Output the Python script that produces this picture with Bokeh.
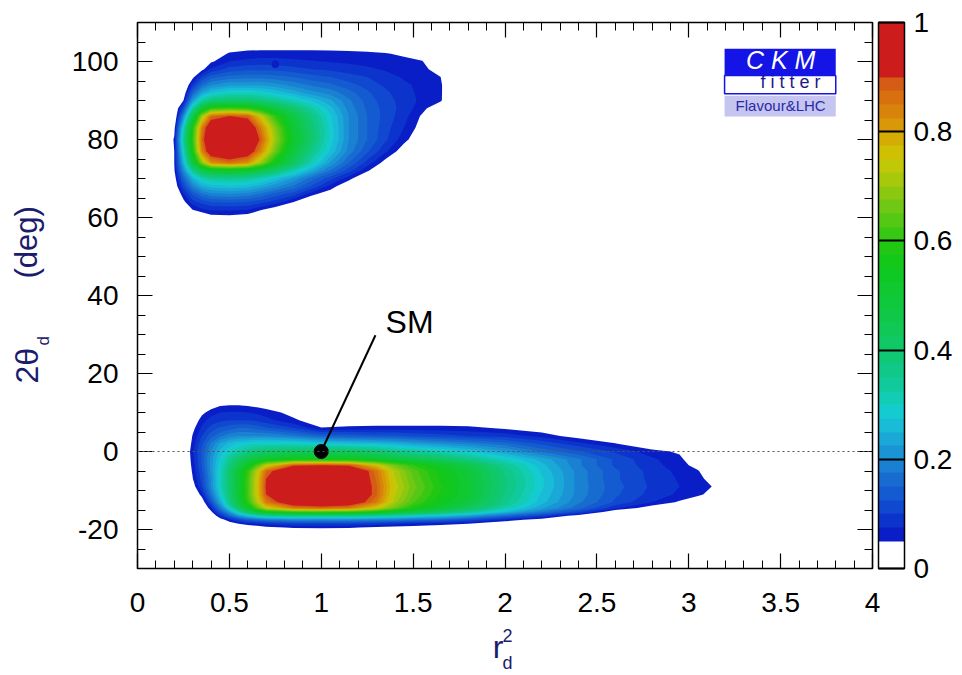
import numpy as np
from bokeh.plotting import figure
from bokeh.plotting.contour import contour_data
from bokeh.layouts import row, column
from bokeh.models import (ColumnDataSource, LinearAxis, SingleIntervalTicker, FixedTicker,
                          PrintfTickFormatter, ColorBar, LinearColorMapper,
                          BoxAnnotation, Span)
from bokeh.core.properties import value
from bokeh.embed import file_html
from bokeh.resources import INLINE

# ---------------- data: p-value maps ----------------
# lower solution (around 2theta_d ~ -9 deg)
LOWER_R2 = [0.25, 0.3, 0.35, 0.4, 0.45, 0.5, 0.55, 0.6, 0.65, 0.7, 0.85, 1.0, 1.15, 1.3,
            1.4, 1.5, 1.65, 1.8, 2.0, 2.2, 2.4, 2.6, 2.8, 2.95, 3.05, 3.15, 3.25]
LOWER_THETA = [-21, -19.5, -18.5, -17.5, -16.5, -15.5, -14.5, -13, -11, -9, -7, -5, -3.5,
               -2, 0, 2, 4, 6, 8, 10, 12, 14]
LOWER_P = [
    [0] * 27,
    [0, 0, 0, 0, 0, 0, 0.01, 0.02, 0.03, 0.04, 0.055, 0.058, 0.053, 0.045, 0.04, 0.035, 0.03, 0.02, 0, 0, 0, 0, 0, 0, 0, 0, 0],
    [0, 0, 0, 0, 0, 0.03, 0.05, 0.065, 0.075, 0.085, 0.1, 0.1, 0.1, 0.09, 0.08, 0.07, 0.06, 0.05, 0.02, 0, 0, 0, 0, 0, 0, 0, 0],
    [0, 0, 0, 0, 0.03, 0.07, 0.11, 0.14, 0.16, 0.18, 0.2, 0.2, 0.2, 0.19, 0.18, 0.17, 0.15, 0.12, 0.07, 0.03, 0, 0, 0, 0, 0, 0, 0],
    [0, 0, 0, 0.01, 0.08, 0.15, 0.22, 0.27, 0.31, 0.34, 0.36, 0.36, 0.36, 0.34, 0.32, 0.3, 0.27, 0.23, 0.16, 0.1, 0.03, 0, 0, 0, 0, 0, 0],
    [0, 0, 0, 0.04, 0.13, 0.22, 0.32, 0.41, 0.5, 0.56, 0.61, 0.62, 0.61, 0.57, 0.52, 0.47, 0.41, 0.35, 0.26, 0.18, 0.11, 0.02, 0, 0, 0, 0, 0],
    [0, 0, 0, 0.07, 0.18, 0.3, 0.42, 0.53, 0.64, 0.74, 0.85, 0.87, 0.85, 0.75, 0.66, 0.58, 0.5, 0.43, 0.32, 0.23, 0.16, 0.08, 0.03, 0, 0, 0, 0],
    [0, 0, 0.02, 0.12, 0.24, 0.36, 0.48, 0.6, 0.72, 0.85, 0.97, 0.98, 0.97, 0.85, 0.71, 0.63, 0.55, 0.48, 0.36, 0.26, 0.18, 0.12, 0.075, 0.045, 0.02, 0, 0],
    [0, 0, 0.065, 0.17, 0.28, 0.39, 0.5, 0.62, 0.75, 0.9, 1, 1, 1, 0.88, 0.73, 0.65, 0.57, 0.5, 0.37, 0.27, 0.19, 0.13, 0.09, 0.07, 0.058, 0.03, 0],
    [0, 0.03, 0.1, 0.2, 0.3, 0.4, 0.5, 0.62, 0.75, 0.91, 1, 1, 1, 0.88, 0.74, 0.66, 0.58, 0.5, 0.38, 0.28, 0.19, 0.135, 0.095, 0.075, 0.065, 0.045, 0],
    [0, 0.048, 0.11, 0.2, 0.3, 0.4, 0.5, 0.62, 0.75, 0.9, 1, 1, 1, 0.87, 0.73, 0.65, 0.57, 0.5, 0.38, 0.28, 0.19, 0.13, 0.092, 0.072, 0.06, 0.03, 0],
    [0, 0.055, 0.12, 0.21, 0.3, 0.4, 0.5, 0.6, 0.73, 0.87, 1, 1, 1, 0.86, 0.72, 0.64, 0.56, 0.49, 0.37, 0.27, 0.19, 0.13, 0.09, 0.068, 0.052, 0.02, 0],
    [0, 0.06, 0.13, 0.21, 0.29, 0.37, 0.45, 0.54, 0.63, 0.73, 0.89, 0.9, 0.89, 0.76, 0.66, 0.6, 0.53, 0.46, 0.35, 0.26, 0.18, 0.12, 0.085, 0.06, 0.04, 0, 0],
    [0, 0.065, 0.13, 0.21, 0.28, 0.35, 0.41, 0.46, 0.5, 0.53, 0.56, 0.56, 0.55, 0.52, 0.49, 0.46, 0.42, 0.37, 0.3, 0.24, 0.18, 0.12, 0.08, 0.058, 0.02, 0, 0],
    [0, 0.07, 0.13, 0.2, 0.26, 0.3, 0.33, 0.36, 0.38, 0.4, 0.42, 0.43, 0.42, 0.39, 0.36, 0.34, 0.31, 0.28, 0.23, 0.17, 0.13, 0.095, 0.06, 0.045, 0, 0, 0],
    [0, 0.06, 0.12, 0.18, 0.23, 0.26, 0.28, 0.29, 0.3, 0.3, 0.3, 0.28, 0.27, 0.26, 0.25, 0.23, 0.21, 0.19, 0.16, 0.12, 0.085, 0.052, 0.02, 0, 0, 0, 0],
    [0, 0.052, 0.1, 0.14, 0.17, 0.19, 0.2, 0.2, 0.2, 0.2, 0.18, 0.15, 0.14, 0.13, 0.13, 0.12, 0.11, 0.1, 0.09, 0.065, 0.035, 0.01, 0, 0, 0, 0, 0],
    [0, 0.04, 0.08, 0.11, 0.13, 0.14, 0.15, 0.15, 0.14, 0.13, 0.1, 0.052, 0.058, 0.06, 0.06, 0.06, 0.06, 0.058, 0.045, 0.03, 0.01, 0, 0, 0, 0, 0, 0],
    [0, 0.02, 0.065, 0.085, 0.095, 0.1, 0.1, 0.1, 0.095, 0.085, 0.055, 0.03, 0.025, 0.025, 0.025, 0.025, 0.025, 0.025, 0.02, 0.01, 0, 0, 0, 0, 0, 0, 0],
    [0, 0, 0.04, 0.065, 0.075, 0.078, 0.078, 0.075, 0.07, 0.062, 0.04, 0.02, 0.01, 0, 0, 0, 0, 0, 0, 0, 0, 0, 0, 0, 0, 0, 0],
    [0, 0, 0.01, 0.03, 0.045, 0.048, 0.048, 0.045, 0.04, 0.035, 0.02, 0.01, 0, 0, 0, 0, 0, 0, 0, 0, 0, 0, 0, 0, 0, 0, 0],
    [0] * 27,
]

# upper solution (around 2theta_d ~ 80 deg)
UPPER_R2 = [0.15, 0.2, 0.25, 0.3, 0.35, 0.4, 0.5, 0.6, 0.67, 0.75, 0.85, 0.95, 1.05, 1.15,
            1.25, 1.35, 1.45, 1.55, 1.65, 1.72]
UPPER_THETA = [57, 60, 62, 64, 66, 68, 70, 72, 74, 77, 80, 83, 86, 88, 90, 92, 94, 96, 98,
               100, 102, 104, 106]
UPPER_P = [
    [0] * 20,
    [0, 0, 0, 0, 0.01, 0.035, 0.038, 0.03, 0.015, 0, 0, 0, 0, 0, 0, 0, 0, 0, 0, 0],
    [0, 0, 0, 0.05, 0.07, 0.078, 0.08, 0.075, 0.053, 0.03, 0.01, 0, 0, 0, 0, 0, 0, 0, 0, 0],
    [0, 0, 0.04, 0.09, 0.11, 0.125, 0.13, 0.125, 0.11, 0.09, 0.05, 0.01, 0, 0, 0, 0, 0, 0, 0, 0],
    [0, 0, 0.07, 0.13, 0.17, 0.19, 0.2, 0.19, 0.17, 0.14, 0.11, 0.058, 0.03, 0, 0, 0, 0, 0, 0, 0],
    [0, 0.02, 0.11, 0.19, 0.24, 0.26, 0.27, 0.26, 0.24, 0.21, 0.17, 0.12, 0.065, 0.02, 0, 0, 0, 0, 0, 0],
    [0, 0.03, 0.15, 0.25, 0.31, 0.34, 0.35, 0.34, 0.31, 0.27, 0.22, 0.16, 0.11, 0.06, 0.01, 0, 0, 0, 0, 0],
    [0, 0.045, 0.2, 0.35, 0.45, 0.5, 0.52, 0.5, 0.46, 0.4, 0.32, 0.24, 0.17, 0.11, 0.055, 0, 0, 0, 0, 0],
    [0, 0.05, 0.25, 0.48, 0.68, 0.82, 0.86, 0.82, 0.7, 0.55, 0.42, 0.31, 0.22, 0.15, 0.09, 0.035, 0, 0, 0, 0],
    [0, 0.05, 0.3, 0.57, 0.84, 0.96, 1.0, 0.96, 0.84, 0.66, 0.48, 0.36, 0.27, 0.19, 0.13, 0.08, 0.03, 0, 0, 0],
    [0, 0.055, 0.34, 0.6, 0.87, 1.0, 1.0, 1.0, 0.89, 0.7, 0.52, 0.4, 0.29, 0.2, 0.15, 0.105, 0.06, 0.02, 0, 0],
    [0, 0.035, 0.3, 0.58, 0.84, 0.98, 1.0, 0.98, 0.85, 0.68, 0.5, 0.39, 0.29, 0.2, 0.15, 0.11, 0.075, 0.035, 0, 0],
    [0, 0, 0.2, 0.45, 0.7, 0.86, 0.9, 0.88, 0.75, 0.6, 0.47, 0.37, 0.28, 0.2, 0.15, 0.115, 0.085, 0.045, 0, 0],
    [0, 0, 0.12, 0.33, 0.5, 0.6, 0.62, 0.6, 0.55, 0.48, 0.4, 0.33, 0.26, 0.19, 0.145, 0.115, 0.09, 0.06, 0.02, 0],
    [0, 0, 0.05, 0.22, 0.33, 0.38, 0.4, 0.4, 0.38, 0.35, 0.31, 0.27, 0.23, 0.18, 0.14, 0.11, 0.09, 0.068, 0.055, 0],
    [0, 0, 0.02, 0.15, 0.23, 0.27, 0.3, 0.3, 0.29, 0.27, 0.24, 0.21, 0.19, 0.16, 0.13, 0.105, 0.085, 0.068, 0.056, 0],
    [0, 0, 0, 0.09, 0.16, 0.2, 0.22, 0.22, 0.22, 0.21, 0.19, 0.17, 0.155, 0.135, 0.115, 0.095, 0.08, 0.068, 0.056, 0],
    [0, 0, 0, 0.04, 0.1, 0.14, 0.16, 0.165, 0.165, 0.16, 0.15, 0.135, 0.125, 0.11, 0.1, 0.085, 0.072, 0.064, 0.05, 0],
    [0, 0, 0, 0, 0.04, 0.08, 0.11, 0.12, 0.12, 0.118, 0.11, 0.1, 0.095, 0.088, 0.08, 0.072, 0.065, 0.058, 0.035, 0],
    [0, 0, 0, 0, 0, 0.045, 0.075, 0.082, 0.085, 0.085, 0.08, 0.077, 0.073, 0.07, 0.066, 0.062, 0.058, 0.052, 0, 0],
    [0, 0, 0, 0, 0, 0.02, 0.055, 0.06, 0.062, 0.062, 0.062, 0.062, 0.06, 0.058, 0.056, 0.052, 0.045, 0.03, 0, 0],
    [0, 0, 0, 0, 0, 0, 0.02, 0.035, 0.035, 0.035, 0.035, 0.035, 0.035, 0.035, 0.032, 0.025, 0.015, 0, 0, 0],
    [0] * 20,
]

# small scan artefact (dark dot) at the top of the upper solution
ARTEFACT_R2 = [0.75]
ARTEFACT_THETA = [99.3]

# Standard Model point
SM_R2 = [1.0]
SM_THETA = [0.0]

# colour scale (p-value bands, lower edges) as on the colour bar
BAND_LEVELS = [0.05, 0.075, 0.1, 0.125, 0.15, 0.175, 0.2, 0.225, 0.25, 0.275, 0.3, 0.325,
               0.35, 0.375, 0.4, 0.425, 0.45, 0.475, 0.5, 0.525, 0.55, 0.575, 0.6, 0.625,
               0.65, 0.675, 0.7, 0.725, 0.75, 0.775, 0.8, 0.825, 0.85, 0.875, 0.9]
BAND_COLORS = ["#0a1ec8", "#0c34cc", "#1048d0", "#145ad0", "#186cd0", "#1a80d2", "#1a94d4",
               "#1aa8d6", "#18bcd6", "#14ccd0", "#12ccb4", "#10ca9c", "#10c888", "#10c874",
               "#10c864", "#10c856", "#10c848", "#10c83c", "#10c830", "#10c824", "#14c81a",
               "#20c814", "#38c814", "#54c814", "#70c814", "#8cc810", "#a8c80c", "#c0c808",
               "#d0c004", "#d4ac04", "#d89808", "#d8840c", "#d87010", "#d45c14", "#cc1c1c"]
CB_TICKS = [0, 0.2, 0.4, 0.6, 0.8, 1.0]
X_TICK_STEP, Y_TICK_STEP = 0.5, 20

FONT = "Liberation Sans"
NAVY = "#1c1c6c"


def bare_figure(w, h, xr, yr):
    f = figure(width=w, height=h, x_range=xr, y_range=yr, output_backend="svg",
               toolbar_location=None, min_border=0, x_axis_type=None, y_axis_type=None)
    f.outline_line_color = None
    f.background_fill_color = "white"
    f.border_fill_color = "white"
    return f


# ---------------- main plot ----------------
p = figure(width=906, height=624, x_range=(0, 4), y_range=(-30, 110),
           output_backend="svg", toolbar_location=None,
           min_border_left=81, min_border_right=90, min_border_top=22, min_border_bottom=56,
           x_axis_type=None, y_axis_type=None)
p.outline_line_color = "black"
p.outline_line_width = 1.5
p.background_fill_color = "white"
p.border_fill_color = "white"

# filled p-value contours, stacked from the lowest level upwards
fill_xs, fill_ys, fill_cols, fill_rank = [], [], [], []
for xs_g, ys_g, rows in ((LOWER_R2, LOWER_THETA, LOWER_P), (UPPER_R2, UPPER_THETA, UPPER_P)):
    z = np.array(rows, dtype=float)
    for k, (lev, col) in enumerate(zip(BAND_LEVELS, BAND_COLORS)):
        cd = contour_data(np.array(xs_g, dtype=float), np.array(ys_g, dtype=float), z,
                          levels=[lev, 2.0], want_line=False)
        fd = cd.fill_data
        for bx, by in zip(fd.xs, fd.ys):
            if len(bx) == 0:
                continue
            fill_xs.append(bx)
            fill_ys.append(by)
            fill_cols.append(col)
            fill_rank.append(k)

order = sorted(range(len(fill_cols)), key=lambda i: fill_rank[i])
src = ColumnDataSource(dict(xs=[fill_xs[i] for i in order], ys=[fill_ys[i] for i in order],
                            color=[fill_cols[i] for i in order]))
p.multi_polygons(xs="xs", ys="ys", fill_color="color", line_color=None, source=src)
p.scatter(x=ARTEFACT_R2, y=ARTEFACT_THETA, size=7, color=BAND_COLORS[0])

# dotted line at 2theta = 0
p.add_layout(Span(location=SM_THETA[0], dimension="width", line_color="#555555",
                  line_dash="2 3", line_width=1))

# SM point with pointer and label
p.line(x=[SM_R2[0], 1.295], y=[SM_THETA[0], 29.8], line_color="black", line_width=2)
p.scatter(x=SM_R2, y=SM_THETA, size=14, color="black")
p.text(x=[1.35], y=[33.1], text=["SM"], text_font=value(FONT), text_font_size="32px",
       text_color="black", text_baseline="alphabetic", text_align="left")

# axes (ticks on all four sides, pointing inwards)
def make_axis(step, minor, labels, standoff):
    ax = LinearAxis(ticker=SingleIntervalTicker(interval=step, num_minor_ticks=minor),
                    formatter=PrintfTickFormatter(format="%g"))
    ax.axis_line_color = None
    ax.major_tick_in = 15
    ax.major_tick_out = 0
    ax.minor_tick_in = 8
    ax.minor_tick_out = 0
    ax.major_tick_line_color = "black"
    ax.minor_tick_line_color = "black"
    ax.major_tick_line_width = 1.2
    ax.minor_tick_line_width = 1
    ax.major_label_standoff = standoff
    if labels:
        ax.major_label_text_font = FONT
        ax.major_label_text_font_size = "28px"
        ax.major_label_text_color = "black"
    else:
        ax.major_label_text_font_size = "2px"
        ax.major_label_text_color = None
    return ax

p.add_layout(make_axis(X_TICK_STEP, 5, True, 24), "below")
p.add_layout(make_axis(Y_TICK_STEP, 4, True, 19), "left")
p.add_layout(make_axis(X_TICK_STEP, 5, False, 0), "above")
p.add_layout(make_axis(Y_TICK_STEP, 4, False, 0), "right")

# invisible spacer between the frame and the colour bar
spacer = LinearAxis(ticker=FixedTicker(ticks=[40], minor_ticks=[]), axis_line_color=None,
                    major_tick_in=0, major_tick_out=6, major_tick_line_color=None,
                    minor_tick_line_color=None, major_label_text_color=None,
                    major_label_text_font_size="2px", major_label_standoff=0)
p.add_layout(spacer, "right")

# CKMfitter logo
p.add_layout(BoxAnnotation(left=3.195, right=3.80, bottom=96.4, top=103.3,
                           fill_color="#1414e6", fill_alpha=1, line_color=None))
p.add_layout(BoxAnnotation(left=3.195, right=3.80, bottom=91.7, top=96.4,
                           fill_color="white", fill_alpha=1, line_color="#1414e6",
                           line_width=1.5, line_alpha=1))
p.add_layout(BoxAnnotation(left=3.195, right=3.80, bottom=85.9, top=91.2,
                           fill_color="#c5c5f0", fill_alpha=1, line_color=None))
p.text(x=[3.50], y=[100.4], text=["C K M"], text_font=value(FONT), text_font_size="25px",
       text_font_style="italic", text_color="white", text_align="center",
       text_baseline="alphabetic", level="overlay")
p.text(x=[3.39], y=[94.7], text=["f i t t e r"], text_font=value(FONT), text_font_size="18px",
       text_color="#1a1a8c", text_align="left", text_baseline="alphabetic", level="overlay")
p.text(x=[3.50], y=[88.8], text=["Flavour&LHC"], text_font=value(FONT), text_font_size="15px",
       text_color="#2a2aa8", text_align="center", text_baseline="alphabetic", level="overlay")

# colour bar
palette = ["#ffffff"] * 2 + BAND_COLORS[:-1] + [BAND_COLORS[-1]] * 4
mapper = LinearColorMapper(palette=palette, low=0, high=1)
cb = ColorBar(color_mapper=mapper, ticker=FixedTicker(ticks=CB_TICKS),
              formatter=PrintfTickFormatter(format="%g"),
              width=26, padding=0, label_standoff=9,
              major_label_text_font=FONT, major_label_text_font_size="28px",
              major_label_text_color="black",
              major_tick_in=26, major_tick_out=0, major_tick_line_color="black",
              major_tick_line_width=2, minor_tick_line_color=None,
              bar_line_color="black", bar_line_width=1.5,
              border_line_color=None, background_fill_color=None)
p.add_layout(cb, "right")

# ---------------- axis titles (in pixel-space strips around the plot) ----------------
ylab = bare_figure(56, 675, (0, 56), (0, 675))
ylab.text(x=[26], y=[292], text=["2θ"], angle=np.pi / 2, text_font=value(FONT),
          text_font_size="32px", text_color=NAVY, text_baseline="alphabetic", text_align="left")
ylab.text(x=[43], y=[330], text=["d"], angle=np.pi / 2, text_font=value(FONT),
          text_font_size="17px", text_color=NAVY, text_baseline="alphabetic", text_align="left")
ylab.text(x=[26], y=[397], text=["(deg)"], angle=np.pi / 2, text_font=value(FONT),
          text_font_size="31px", text_color=NAVY, text_baseline="alphabetic", text_align="left")

xlab = bare_figure(906, 51, (56, 962), (0, 51))
xlab.text(x=[494], y=[28.2], text=["r"], text_font=value(FONT), text_font_size="32px",
          text_color=NAVY, text_baseline="alphabetic", text_align="left")
xlab.text(x=[506], y=[39.8], text=["2"], text_font=value(FONT), text_font_size="18px",
          text_color=NAVY, text_baseline="alphabetic", text_align="left")
xlab.text(x=[506], y=[12.3], text=["d"], text_font=value(FONT), text_font_size="18px",
          text_color=NAVY, text_baseline="alphabetic", text_align="left")

layout = row(ylab, column(p, xlab, spacing=0), spacing=0)
open("out.html", "w").write(file_html(layout, INLINE))
